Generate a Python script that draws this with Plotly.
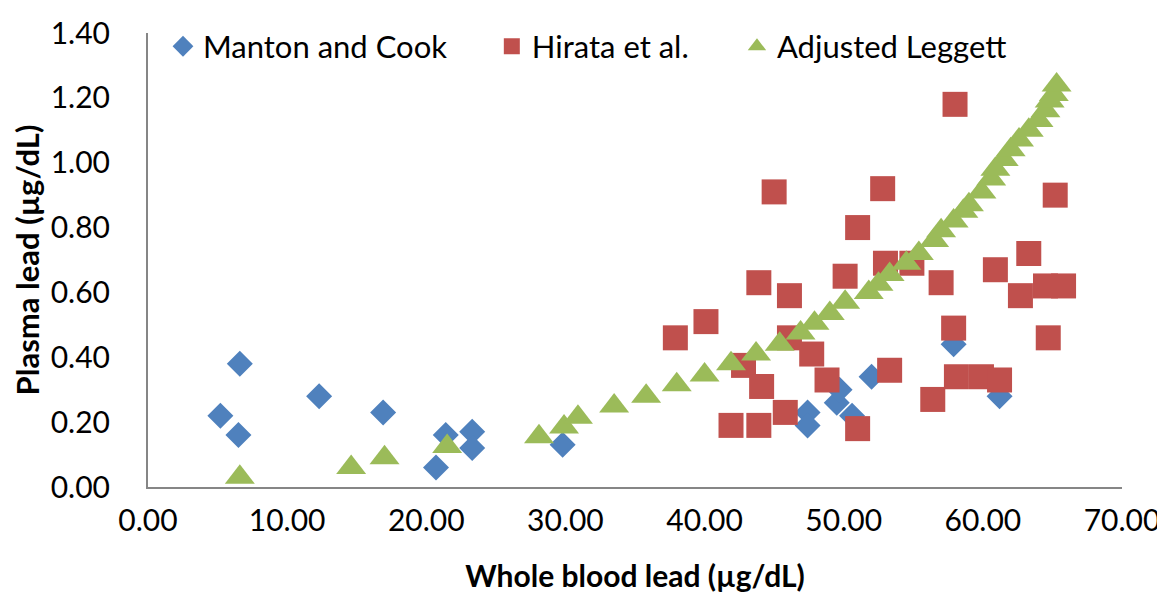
import plotly.graph_objects as go

# ---- data ----
manton_x = [5.2, 6.6, 6.5, 12.3, 16.9, 20.7, 21.4, 23.3, 23.3, 29.8,
            47.4, 47.4, 49.5, 49.7, 50.6, 52.0, 57.9, 61.2]
manton_y = [0.22, 0.38, 0.16, 0.28, 0.23, 0.06, 0.16, 0.17, 0.12, 0.13,
            0.23, 0.19, 0.26, 0.30, 0.22, 0.34, 0.44, 0.28]

hirata_x = [37.9, 40.1, 42.8, 41.9, 43.9, 43.9, 44.1, 45.0, 45.8, 46.1,
            46.1, 47.7, 48.8, 50.1, 51.0, 51.0, 52.8, 53.0, 53.3, 54.9,
            56.4, 57.0, 57.9, 58.0, 58.1, 59.9, 60.9, 61.2, 62.7, 63.3,
            64.5, 64.7, 65.2, 65.8]
hirata_y = [0.46, 0.51, 0.375, 0.19, 0.19, 0.63, 0.31, 0.91, 0.23, 0.59,
            0.46, 0.41, 0.33, 0.65, 0.80, 0.18, 0.92, 0.69, 0.36, 0.69,
            0.27, 0.63, 0.49, 1.18, 0.34, 0.34, 0.67, 0.33, 0.59, 0.72,
            0.62, 0.46, 0.90, 0.62]

leggett_x = [6.6, 14.6, 17.0, 21.5, 28.1, 29.9, 30.9, 33.5, 35.8, 38.0,
             40.0, 41.9, 43.7, 45.4, 46.9, 47.9, 49.0, 50.1, 51.8, 52.5,
             53.3, 54.5, 55.4, 56.5, 57.0, 57.9, 58.6, 59.0, 59.9, 60.6,
             60.9, 61.5, 62.0, 62.6, 63.3, 64.0, 64.5, 64.8, 65.1, 65.3]
leggett_y = [0.03, 0.06, 0.09, 0.125, 0.155, 0.185, 0.215, 0.25, 0.28, 0.315,
             0.345, 0.38, 0.41, 0.44, 0.475, 0.505, 0.535, 0.57, 0.60, 0.625,
             0.655, 0.69, 0.72, 0.76, 0.79, 0.82, 0.85, 0.87, 0.91, 0.95,
             0.98, 1.01, 1.04, 1.07, 1.10, 1.13, 1.16, 1.19, 1.21, 1.24]

series_names = ["Manton and Cook", "Hirata et al.", "Adjusted Leggett"]
x_ticks = [0, 10, 20, 30, 40, 50, 60, 70]
y_ticks = [0, 0.2, 0.4, 0.6, 0.8, 1.0, 1.2, 1.4]

FONT = "Lato, 'Open Sans', sans-serif"
BLUE, RED, GREEN = "#4F81BD", "#C0504D", "#9BBB59"
AXIS = "#868686"

fig = go.Figure()
fig.add_trace(go.Scatter(
    x=manton_x, y=manton_y, mode="markers", name=series_names[0],
    marker=dict(symbol="diamond", size=20, color=BLUE, line=dict(width=0)),
    legend="legend"))
fig.add_trace(go.Scatter(
    x=hirata_x, y=hirata_y, mode="markers", name=series_names[1],
    marker=dict(symbol="square", size=25, color=RED, line=dict(width=0)),
    legend="legend2"))
fig.add_trace(go.Scatter(
    x=leggett_x, y=leggett_y, mode="markers", name=series_names[2],
    marker=dict(symbol="triangle-up", size=26, color=GREEN, line=dict(width=0)),
    legend="legend3"))

leg_common = dict(yanchor="middle", xanchor="left", y=0.97,
                  bgcolor="rgba(0,0,0,0)", borderwidth=0,
                  font=dict(family=FONT, size=31, color="#000000"))
# page body has an 8px default margin; size the figure to compensate
fig.update_layout(
    width=1157, height=592,
    margin=dict(l=140, r=43, t=17, b=113),
    paper_bgcolor="white", plot_bgcolor="white",
    font=dict(family=FONT, color="#000000"),
    legend=dict(x=0.0154, **leg_common),
    legend2=dict(x=0.353, **leg_common),
    legend3=dict(x=0.6047, **leg_common),
    showlegend=True,
)
fig.update_xaxes(
    range=[0, 70], tickvals=x_ticks, tickformat=".2f",
    showgrid=False, zeroline=False, showline=True, linecolor=AXIS, linewidth=2,
    ticks="", ticklabelstandoff=6, automargin=False,
    tickfont=dict(family=FONT, size=30, color="#000000"),
    title=dict(text="<b>Whole blood lead (µg/dL)</b>", standoff=30,
               font=dict(family=FONT, size=30, color="#000000")))
fig.update_yaxes(
    range=[0, 1.4], tickvals=y_ticks, tickformat=".2f",
    showgrid=False, zeroline=False, showline=True, linecolor=AXIS, linewidth=2,
    ticks="", ticklabelstandoff=30, automargin=False,
    tickfont=dict(family=FONT, size=30, color="#000000"),
    title=dict(text="<b>Plasma lead (µg/dL)</b>", standoff=18,
               font=dict(family=FONT, size=31, color="#000000")))

fig.write_html("out.html")
